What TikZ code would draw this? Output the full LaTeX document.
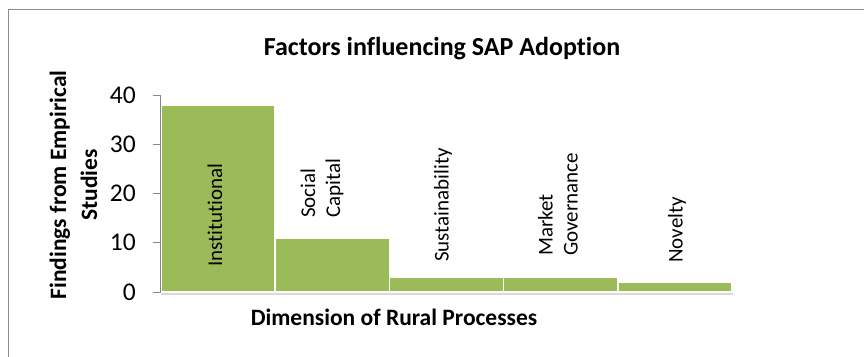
\documentclass[tikz,border=0pt]{standalone}
\usepackage{fontspec}
\setmainfont{Carlito}[Ligatures=NoCommon]
\definecolor{bargreen}{HTML}{9BBB59}
\definecolor{axisgray}{HTML}{868686}
\definecolor{framegray}{HTML}{8C8C8C}
\tikzset{
  barbox/.style={fill=bargreen, draw=white, line width=1.5pt},
  barlabel/.style={rotate=90, anchor=west, inner sep=0pt, align=left, font=\fontsize{21}{25}\selectfont},
  ticklabel/.style={anchor=east, inner sep=0pt, font=\fontsize{25.5}{26}\selectfont},
  charttitle/.style={inner sep=0pt, font=\bfseries\fontsize{26}{28}\selectfont},
  axistitle/.style={inner sep=0pt, align=center, font=\bfseries\fontsize{23.5}{31}\selectfont}
}
\begin{document}
\begin{tikzpicture}[x=1pt,y=-1pt]
\useasboundingbox (0,0) rectangle (864,356);
\clip (0,0) rectangle (864,356);
\draw[framegray, line width=1.5pt] (8.5,9.5) rectangle (900,400);
\node[charttitle, anchor=base] (title) at (442,55) {Factors influencing SAP Adoption};
\draw[black!15, line width=2pt] (161,293.5)--(733,293.5);
\foreach \v [count=\i] in {38,11,3,3,2}
  \draw[barbox] ({161+(\i-1)*114.2},292) rectangle ++(114.2,{-4.925*\v});
\draw[axisgray, line width=1pt] (160.5,95)--(160.5,292);
\foreach \t in {0,10,...,40}{
  \draw[axisgray, line width=1pt] (153,{292-4.925*\t})--(160.5,{292-4.925*\t});
  \node[ticklabel] (tick\t) at (136,{292-4.925*\t}) {\t};
}
\node[barlabel] (inst) at (215,267) {Institutional};
\node[barlabel] (soc) at (322,218) {Social\\Capital};
\node[barlabel] (sus) at (443,262) {Sustainability};
\node[barlabel] (mkt) at (558,256) {Market\\Governance};
\node[barlabel] (nov) at (677,263) {Novelty};
\node[axistitle, rotate=90] (ytitle) at (73.5,185) {Findings from Empirical\\Studies};
\node[axistitle, anchor=base] (xtitle) at (394,325) {Dimension of Rural Processes};
\end{tikzpicture}
\end{document}
